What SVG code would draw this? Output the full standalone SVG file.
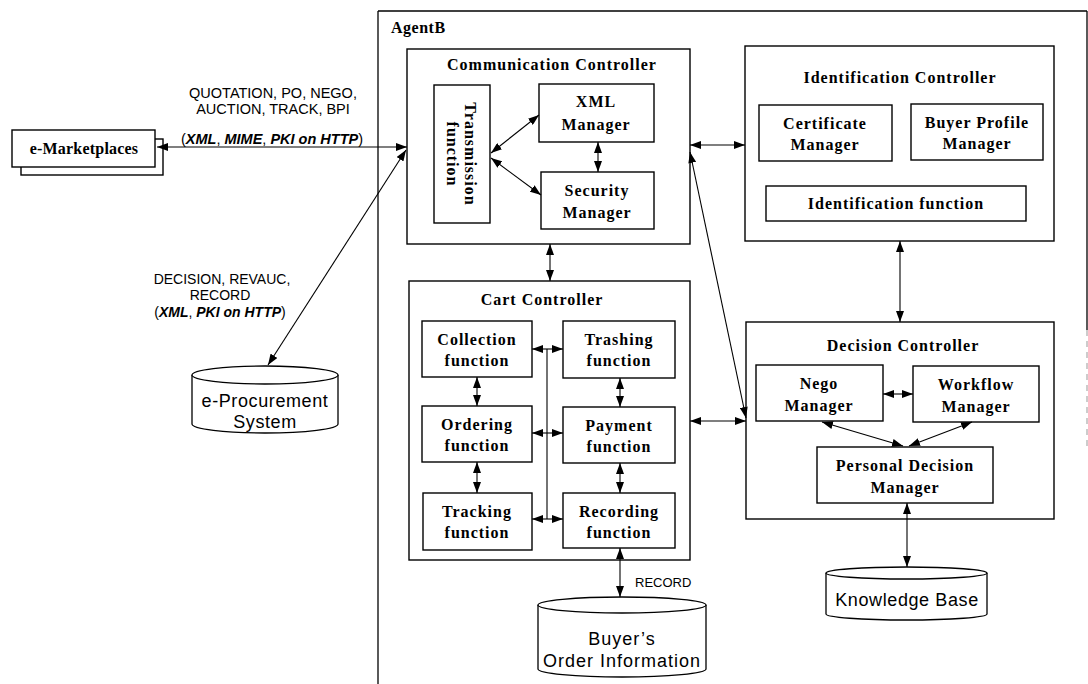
<svg xmlns="http://www.w3.org/2000/svg" width="1088" height="684" viewBox="0 0 1088 684">
<defs>
<marker id="ah" viewBox="0 0 11 8" refX="11" refY="4" markerWidth="11" markerHeight="8" markerUnits="userSpaceOnUse" orient="auto-start-reverse">
<path d="M0,0 L11,4 L0,8 z" fill="#000"/>
</marker>
</defs>
<style>
.box{fill:#fff;stroke:#000;stroke-width:1.4}
.frame{fill:none;stroke:#000;stroke-width:1.3}
.cyl{fill:#fff;stroke:#000;stroke-width:1.3}
.ser{font-family:"Liberation Serif","Times New Roman",serif;font-weight:bold;font-size:16px;letter-spacing:1px;fill:#000;text-anchor:middle}
.san{font-family:"Liberation Sans",Arial,sans-serif;font-size:14px;fill:#000;text-anchor:middle}
.cyt{font-family:"Liberation Sans",Arial,sans-serif;font-size:18px;letter-spacing:0.6px;fill:#000;text-anchor:middle}
.bi{font-weight:bold;font-style:italic}
.c{fill:none;stroke:#000;stroke-width:1.1}
.d{marker-start:url(#ah);marker-end:url(#ah)}
</style>
<rect width="1088" height="684" fill="#fff"/>

<g id="agentB">
<line x1="378" y1="11" x2="1087" y2="11" class="frame"/>
<line x1="378" y1="11" x2="378" y2="684" class="frame"/>
<line x1="1087" y1="11" x2="1087" y2="330" class="frame"/>
<line x1="1087" y1="330" x2="1087" y2="450" stroke="#999" stroke-width="1" stroke-dasharray="6,5"/>
<text x="391" y="33" class="ser" style="text-anchor:start;letter-spacing:0.5px">AgentB</text>
</g>

<g id="e-marketplaces">
<rect x="21" y="139" width="142" height="36" class="box"/>
<rect x="12" y="130" width="143" height="37" class="box"/>
<text x="84" y="154" class="ser" style="letter-spacing:0.2px">e-Marketplaces</text>
</g>

<g id="communication-controller">
<rect x="407" y="49" width="283" height="195" class="box"/>
<text x="552" y="70" class="ser">Communication Controller</text>
</g>
<g id="transmission-function">
<rect x="434" y="85" width="56" height="138" class="box"/>
<g transform="translate(462,154) rotate(90)">
<text x="0" y="-2.5" class="ser">Transmission</text>
<text x="0" y="15.5" class="ser">function</text>
</g>
</g>
<g id="xml-manager">
<rect x="539" y="84" width="115" height="58" class="box"/>
<text x="596" y="107" class="ser">XML</text>
<text x="596" y="130" class="ser">Manager</text>
</g>
<g id="security-manager">
<rect x="541" y="172" width="113" height="57" class="box"/>
<text x="597" y="196" class="ser">Security</text>
<text x="597" y="218" class="ser">Manager</text>
</g>

<g id="identification-controller">
<rect x="745" y="46" width="309" height="195" class="box"/>
<text x="900" y="83" class="ser">Identification Controller</text>
</g>
<g id="certificate-manager">
<rect x="759" y="105" width="133" height="56" class="box"/>
<text x="825" y="129" class="ser">Certificate</text>
<text x="825" y="150" class="ser">Manager</text>
</g>
<g id="buyer-profile-manager">
<rect x="911" y="104" width="132" height="56" class="box"/>
<text x="977" y="128" class="ser">Buyer Profile</text>
<text x="977" y="149" class="ser">Manager</text>
</g>
<g id="identification-function">
<rect x="766" y="186" width="260" height="35" class="box"/>
<text x="896" y="209" class="ser">Identification function</text>
</g>

<g id="cart-controller">
<rect x="409" y="281" width="281" height="279" class="box"/>
<text x="542" y="305" class="ser">Cart Controller</text>
</g>
<g id="collection-function">
<rect x="422" y="321" width="110" height="56" class="box"/>
<text x="477" y="345" class="ser">Collection</text>
<text x="477" y="366" class="ser">function</text>
</g>
<g id="trashing-function">
<rect x="563" y="321" width="112" height="57" class="box"/>
<text x="619" y="345" class="ser">Trashing</text>
<text x="619" y="366" class="ser">function</text>
</g>
<g id="ordering-function">
<rect x="422" y="406" width="110" height="56" class="box"/>
<text x="477" y="430" class="ser">Ordering</text>
<text x="477" y="451" class="ser">function</text>
</g>
<g id="payment-function">
<rect x="563" y="407" width="112" height="56" class="box"/>
<text x="619" y="431" class="ser">Payment</text>
<text x="619" y="452" class="ser">function</text>
</g>
<g id="tracking-function">
<rect x="423" y="493" width="109" height="57" class="box"/>
<text x="477" y="517" class="ser">Tracking</text>
<text x="477" y="538" class="ser">function</text>
</g>
<g id="recording-function">
<rect x="563" y="493" width="112" height="55" class="box"/>
<text x="619" y="517" class="ser">Recording</text>
<text x="619" y="538" class="ser">function</text>
</g>

<g id="decision-controller">
<rect x="746" y="322" width="308" height="197" class="box"/>
<text x="903" y="351" class="ser">Decision Controller</text>
</g>
<g id="nego-manager">
<rect x="756" y="365" width="127" height="56" class="box"/>
<text x="819" y="389" class="ser">Nego</text>
<text x="819" y="411" class="ser">Manager</text>
</g>
<g id="workflow-manager">
<rect x="913" y="366" width="126" height="56" class="box"/>
<text x="976" y="390" class="ser">Workflow</text>
<text x="976" y="412" class="ser">Manager</text>
</g>
<g id="personal-decision-manager">
<rect x="817" y="447" width="176" height="56" class="box"/>
<text x="905" y="471" class="ser">Personal Decision</text>
<text x="905" y="493" class="ser">Manager</text>
</g>

<g id="e-procurement-system">
<path d="M192,375 L192,424 A73,9 0 0 0 338,424 L338,375" class="cyl"/>
<ellipse cx="265" cy="375" rx="73" ry="9" class="cyl"/>
<text x="265" y="407" class="cyt">e-Procurement</text>
<text x="265" y="428" class="cyt">System</text>
</g>

<g id="buyers-order-information">
<path d="M538,605 L538,669 A84,8 0 0 0 706,669 L706,605" class="cyl"/>
<ellipse cx="622" cy="605" rx="84" ry="8" class="cyl"/>
<text x="622" y="645" class="cyt" style="letter-spacing:1px">Buyer’s</text>
<text x="622" y="667" class="cyt" style="letter-spacing:1px">Order Information</text>
</g>

<g id="knowledge-base">
<path d="M826,573 L826,614 A80.5,6 0 0 0 987,614 L987,573" class="cyl"/>
<ellipse cx="906.5" cy="573" rx="80.5" ry="6" class="cyl"/>
<text x="907" y="606" class="cyt">Knowledge Base</text>
</g>

<g id="connectors">
<line x1="157" y1="147" x2="407" y2="147" class="c d"/>
<line x1="406" y1="150" x2="268" y2="365" class="c d"/>
<line x1="491" y1="153" x2="539" y2="115" class="c d"/>
<line x1="491" y1="158" x2="541" y2="195" class="c d"/>
<line x1="598" y1="142" x2="598" y2="172" class="c d"/>
<line x1="690" y1="145" x2="745" y2="145" class="c d"/>
<line x1="690" y1="152" x2="746" y2="418" class="c d"/>
<line x1="550" y1="244" x2="550" y2="281" class="c d"/>
<line x1="900" y1="241" x2="900" y2="322" class="c d"/>
<line x1="690" y1="421" x2="746" y2="421" class="c d"/>
<line x1="547" y1="349" x2="547" y2="519" class="c"/>
<line x1="532" y1="349" x2="563" y2="349" class="c d"/>
<line x1="532" y1="433" x2="563" y2="433" class="c d"/>
<line x1="532" y1="519" x2="563" y2="519" class="c d"/>
<line x1="477" y1="377" x2="477" y2="406" class="c d"/>
<line x1="477" y1="462" x2="477" y2="493" class="c d"/>
<line x1="620" y1="378" x2="620" y2="407" class="c d"/>
<line x1="620" y1="463" x2="620" y2="493" class="c d"/>
<line x1="620" y1="548" x2="620" y2="597" class="c d"/>
<line x1="883" y1="394" x2="913" y2="394" class="c d"/>
<line x1="822" y1="422" x2="903" y2="446" class="c d"/>
<line x1="972" y1="422" x2="909" y2="446" class="c d"/>
<line x1="907" y1="503" x2="907" y2="567" class="c d"/>
</g>

<g id="labels">
<text x="273" y="98" class="san" style="font-size:14.5px">QUOTATION, PO, NEGO,</text>
<text x="273" y="114" class="san" style="font-size:14.5px">AUCTION, TRACK, BPI</text>
<text x="272" y="144" class="san" style="font-size:14.5px">(<tspan class="bi">XML</tspan>, <tspan class="bi">MIME</tspan>, <tspan class="bi">PKI on HTTP</tspan>)</text>
<text x="222" y="284" class="san">DECISION, REVAUC,</text>
<text x="220" y="300" class="san">RECORD</text>
<text x="220" y="317" class="san">(<tspan class="bi">XML</tspan>, <tspan class="bi">PKI  on HTTP</tspan>)</text>
<text x="635" y="587" class="san" style="text-anchor:start;font-size:13px">RECORD</text>
</g>
</svg>
